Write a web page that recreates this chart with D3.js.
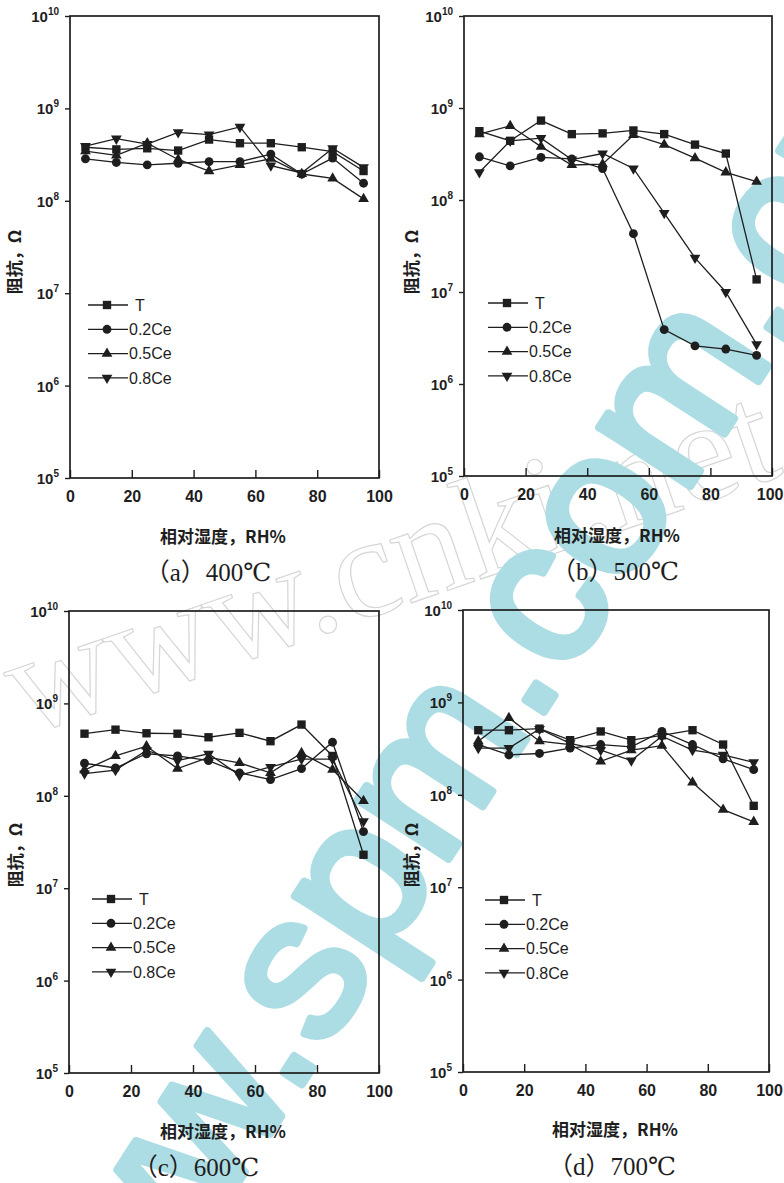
<!DOCTYPE html>
<html>
<head>
<meta charset="utf-8">
<script src="https://cdn.jsdelivr.net/npm/d3@7"></script>
<style>
  html, body { margin: 0; padding: 0; background: #fff; }
  svg { display: block; }
</style>
</head>
<body>
<svg id="chart" width="784" height="1183"></svg>
<script>
// ---------------- data ----------------
const rh = [5, 15, 25, 35, 45, 55, 65, 75, 85, 95];
const seriesNames = ["T", "0.2Ce", "0.5Ce", "0.8Ce"];
const panelTitles = ["（a）400℃", "（b）500℃", "（c）600℃", "（d）700℃"];
const xTickValues = [0, 20, 40, 60, 80, 100];
const yTickExponents = [5, 6, 7, 8, 9, 10];
const xAxisTitle = "相对湿度，RH%";
const yAxisTitle = "阻抗，Ω";

// panel (a) 400°C
const a_T    = [3.8e8, 3.6e8, 3.7e8, 3.5e8, 4.6e8, 4.2e8, 4.2e8, 3.8e8, 3.4e8, 2.1e8];
const a_02Ce = [2.85e8, 2.6e8, 2.45e8, 2.55e8, 2.65e8, 2.65e8, 3.2e8, 1.95e8, 2.9e8, 1.55e8];
const a_05Ce = [3.45e8, 3.1e8, 4.2e8, 2.8e8, 2.1e8, 2.45e8, 2.85e8, 1.95e8, 1.75e8, 1.05e8];
const a_08Ce = [3.9e8, 4.7e8, 4.1e8, 5.5e8, 5.2e8, 6.3e8, 2.4e8, 2.0e8, 3.7e8, 2.3e8];
// panel (b) 500°C
const b_T    = [5.6e8, 4.4e8, 7.3e8, 5.2e8, 5.3e8, 5.7e8, 5.2e8, 4.0e8, 3.2e8, 1.37e7];
const b_02Ce = [2.95e8, 2.35e8, 2.9e8, 2.8e8, 2.2e8, 4.3e7, 3.9e6, 2.6e6, 2.4e6, 2.05e6];
const b_05Ce = [5.2e8, 6.4e8, 3.8e8, 2.4e8, 2.45e8, 5.1e8, 4.0e8, 2.85e8, 2.0e8, 1.58e8];
const b_08Ce = [2.0e8, 4.4e8, 4.7e8, 2.75e8, 3.2e8, 2.2e8, 7.2e7, 2.35e7, 1.0e7, 2.7e6];
// panel (c) 600°C
const c_T    = [4.7e8, 5.2e8, 4.75e8, 4.7e8, 4.3e8, 4.8e8, 3.9e8, 5.9e8, 2.7e8, 2.3e7];
const c_02Ce = [2.25e8, 2.0e8, 2.85e8, 2.7e8, 2.4e8, 1.77e8, 1.5e8, 1.97e8, 3.8e8, 4.1e7];
const c_05Ce = [1.9e8, 2.7e8, 3.45e8, 1.97e8, 2.6e8, 2.27e8, 1.77e8, 2.9e8, 1.92e8, 8.8e7];
const c_08Ce = [1.74e8, 1.9e8, 3.1e8, 2.4e8, 2.85e8, 1.67e8, 2.05e8, 2.5e8, 2.5e8, 5.3e7];
// panel (d) 700°C
const d_T    = [5.0e8, 5.0e8, 5.2e8, 3.9e8, 4.85e8, 3.9e8, 4.4e8, 5.0e8, 3.5e8, 7.6e7];
const d_02Ce = [3.5e8, 2.7e8, 2.8e8, 3.2e8, 3.5e8, 3.3e8, 4.85e8, 3.5e8, 2.45e8, 1.87e8];
const d_05Ce = [3.8e8, 6.8e8, 3.8e8, 3.5e8, 2.3e8, 3.05e8, 3.4e8, 1.36e8, 6.9e7, 5.1e7];
const d_08Ce = [3.2e8, 3.2e8, 5.15e8, 3.6e8, 3.05e8, 2.35e8, 4.3e8, 3.05e8, 2.7e8, 2.25e8];

const panelData = [
  [a_T, a_02Ce, a_05Ce, a_08Ce],
  [b_T, b_02Ce, b_05Ce, b_08Ce],
  [c_T, c_02Ce, c_05Ce, c_08Ce],
  [d_T, d_02Ce, d_05Ce, d_08Ce]
];

// ---------------- layout ----------------
const layouts = [
  { left: 70,  right: 379, top: 16,  bottom: 478,  legX: 88,  legY: 305, yTitleX: 15,  yTitleY: 262, xTitleX: 223, xTitleY: 543,  capX: 208, capY: 581 },
  { left: 464, right: 772, top: 16,  bottom: 476,  legX: 488, legY: 303, yTitleX: 412, yTitleY: 262, xTitleX: 617, xTitleY: 542,  capX: 615, capY: 580 },
  { left: 69,  right: 379, top: 611, bottom: 1073, legX: 92,  legY: 899, yTitleX: 16,  yTitleY: 855, xTitleX: 223, xTitleY: 1138, capX: 196, capY: 1176 },
  { left: 463, right: 769, top: 610, bottom: 1072, legX: 485, legY: 900, yTitleX: 412, yTitleY: 855, xTitleX: 615, xTitleY: 1136, capX: 612, capY: 1175 }
];
const symbolTypes = [d3.symbolSquare, d3.symbolCircle, d3.symbolTriangle, d3.symbolTriangle];
const symbolSizes = [70, 62, 50, 50];
const symbolRot = [0, 0, 0, 180];
const ink = "#1e1e1e";
const sansFont = "'Liberation Sans', Arial, 'Noto Sans CJK SC', sans-serif";
const cjkFont = "'Noto Sans CJK SC', 'Liberation Sans', sans-serif";
const capFont = "'Liberation Serif', 'DejaVu Serif', 'Noto Sans CJK SC', serif";

const svg = d3.select("#chart");
svg.append("rect").attr("width", 784).attr("height", 1183).attr("fill", "#fff");

// ---------------- watermarks ----------------
svg.append("text")
  .attr("transform", "translate(25,736) rotate(-19)")
  .attr("font-family", "'Liberation Serif', serif")
  .attr("font-size", 145)
  .attr("fill", "none")
  .attr("stroke", "#d6d6d6")
  .attr("stroke-width", 1.2)
  .text("www.cnki.net");

svg.append("text")
  .attr("transform", "translate(56,1463) rotate(-57)")
  .attr("font-family", "'Liberation Sans', Arial, sans-serif")
  .attr("font-size", 205)
  .attr("fill", "#acdde5")
  .attr("stroke", "#acdde5")
  .attr("stroke-width", 8)
  .attr("stroke-linejoin", "round")
  .text("www.spm.com.cn");

// ---------------- panels ----------------
layouts.forEach((L, pi) => {
  const g = svg.append("g");
  const x = d3.scaleLinear().domain([0, 100]).range([L.left, L.right]);
  const y = d3.scaleLog().domain([1e5, 1e10]).range([L.bottom, L.top]);

  // x axis (inward ticks)
  const xAxis = g.append("g")
    .attr("transform", `translate(0,${L.bottom})`)
    .call(d3.axisBottom(x).tickValues(xTickValues).tickSizeInner(-8).tickSizeOuter(0).tickPadding(13));
  xAxis.select(".domain").remove();
  xAxis.selectAll("line").attr("stroke", ink).attr("stroke-width", 1.4);
  xAxis.selectAll("text").attr("font-family", sansFont).attr("font-size", 16)
    .attr("font-weight", "bold").attr("fill", ink)
    .each(function(d) {
      // keep the label inside the page
      const px = x(d);
      const w = this.getComputedTextLength();
      if (px + w / 2 > 783) d3.select(this).attr("x", 783 - w / 2 - px);
    });

  // y axis (outward ticks, power-of-ten labels)
  const yAxis = g.append("g")
    .attr("transform", `translate(${L.left},0)`)
    .call(d3.axisLeft(y).tickValues(yTickExponents.map(e => Math.pow(10, e))).tickSize(5).tickFormat(""));
  yAxis.select(".domain").remove();
  yAxis.selectAll("line").attr("stroke", ink).attr("stroke-width", 1.4);
  yAxis.selectAll(".tick").each(function(d) {
    const t = d3.select(this).append("text")
      .attr("x", -11).attr("dy", "0.36em")
      .attr("text-anchor", "end")
      .attr("font-family", sansFont).attr("font-size", 15).attr("font-weight", "bold")
      .attr("fill", ink);
    t.append("tspan").text("10");
    t.append("tspan").attr("font-size", 10).attr("dy", -7).text(Math.round(Math.log10(d)));
  });

  // frame
  g.append("rect")
    .attr("x", L.left).attr("y", L.top)
    .attr("width", L.right - L.left).attr("height", L.bottom - L.top)
    .attr("fill", "none").attr("stroke", ink).attr("stroke-width", 1.7);

  // series
  const line = d3.line().x((d, i) => x(rh[i])).y(d => y(d));
  panelData[pi].forEach((vals, si) => {
    g.append("path").attr("d", line(vals))
      .attr("fill", "none").attr("stroke", ink).attr("stroke-width", 1.3);
  });
  panelData[pi].forEach((vals, si) => {
    const sym = d3.symbol().type(symbolTypes[si]).size(symbolSizes[si]);
    g.selectAll(null).data(vals).enter().append("path")
      .attr("d", sym)
      .attr("transform", (d, i) => `translate(${x(rh[i])},${y(d)}) rotate(${symbolRot[si]})`)
      .attr("fill", ink);
  });

  // legend
  seriesNames.forEach((name, si) => {
    const ly = L.legY + si * 24.3;
    g.append("line").attr("x1", L.legX).attr("x2", L.legX + 40)
      .attr("y1", ly).attr("y2", ly).attr("stroke", ink).attr("stroke-width", 1.3);
    g.append("path").attr("d", d3.symbol().type(symbolTypes[si]).size(symbolSizes[si]))
      .attr("transform", `translate(${L.legX + 19},${ly}) rotate(${symbolRot[si]})`)
      .attr("fill", ink);
    g.append("text").attr("x", L.legX + 41 + (si === 0 ? 6 : 0)).attr("y", ly).attr("dy", "0.36em")
      .attr("font-family", sansFont).attr("font-size", 16).attr("fill", ink)
      .text(name);
  });

  // titles
  g.append("text")
    .attr("transform", `translate(${L.yTitleX},${L.yTitleY}) rotate(-90)`)
    .attr("text-anchor", "middle").attr("dy", "0.36em")
    .attr("font-family", cjkFont).attr("font-size", 17).attr("font-weight", "bold").attr("fill", ink)
    .text(yAxisTitle);
  g.append("text")
    .attr("x", L.xTitleX).attr("y", L.xTitleY)
    .attr("text-anchor", "middle")
    .attr("font-family", cjkFont).attr("font-size", 17).attr("font-weight", "bold").attr("fill", ink)
    .text(xAxisTitle);
  g.append("text")
    .attr("x", L.capX).attr("y", L.capY)
    .attr("text-anchor", "middle")
    .attr("font-family", capFont).attr("font-size", 25).attr("fill", ink)
    .text(panelTitles[pi]);
});
</script>
</body>
</html>
